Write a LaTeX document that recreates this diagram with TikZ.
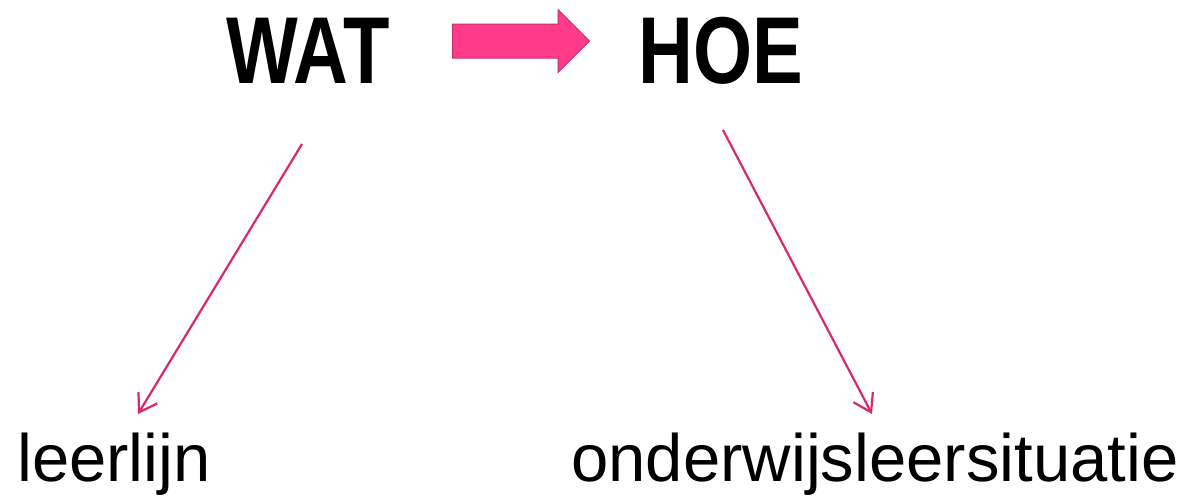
\documentclass[tikz,border=0pt]{standalone}
\usepackage{fontspec}
\setmainfont{Liberation Sans}
\newfontfamily\kopfont{Liberation Sans}[FakeStretch=0.8]
\usetikzlibrary{arrows.meta,shapes.arrows}
\definecolor{roze}{HTML}{FF3B8A}
\definecolor{rozerand}{HTML}{C2306F}
\definecolor{lijnroze}{HTML}{D82872}

\begin{document}
\begin{tikzpicture}[x=1pt,y=-1pt,
  kop/.style={anchor=base,inner sep=0,font=\kopfont\bfseries\fontsize{95}{95}\selectfont},
  term/.style={anchor=base,inner sep=0,font=\fontsize{67}{67}\selectfont},
  blokpijl/.style={single arrow,fill=roze,draw=rozerand,line width=1pt,inner xsep=0,inner ysep=16.5pt,
    minimum height=137pt,single arrow head extend=14.5pt,single arrow tip angle=90},
  pijl/.style={draw=lijnroze,line width=2.2pt,-{Straight Barb[length=17pt,width=22pt]}}]
  \useasboundingbox (0,0) rectangle (1194,496);
  \node[kop] (wat) at (308,83) {WAT};
  \node[kop] (hoe) at (721,83) {HOE};
  \node[blokpijl] (naar) at (512.5,41) {};
  \node[term] (leerlijn) at (114,481) {leerlijn};
  \node[term] (situatie) at (875,481) {onderwijsleersituatie};
  \coordinate (wat-uit) at (302,144);
  \coordinate (leerlijn-in) at (138,414);
  \coordinate (hoe-uit) at (723,130);
  \coordinate (situatie-in) at (872,414);
  \draw[pijl] (wat-uit) -- (leerlijn-in);
  \draw[pijl] (hoe-uit) -- (situatie-in);
\end{tikzpicture}
\end{document}
